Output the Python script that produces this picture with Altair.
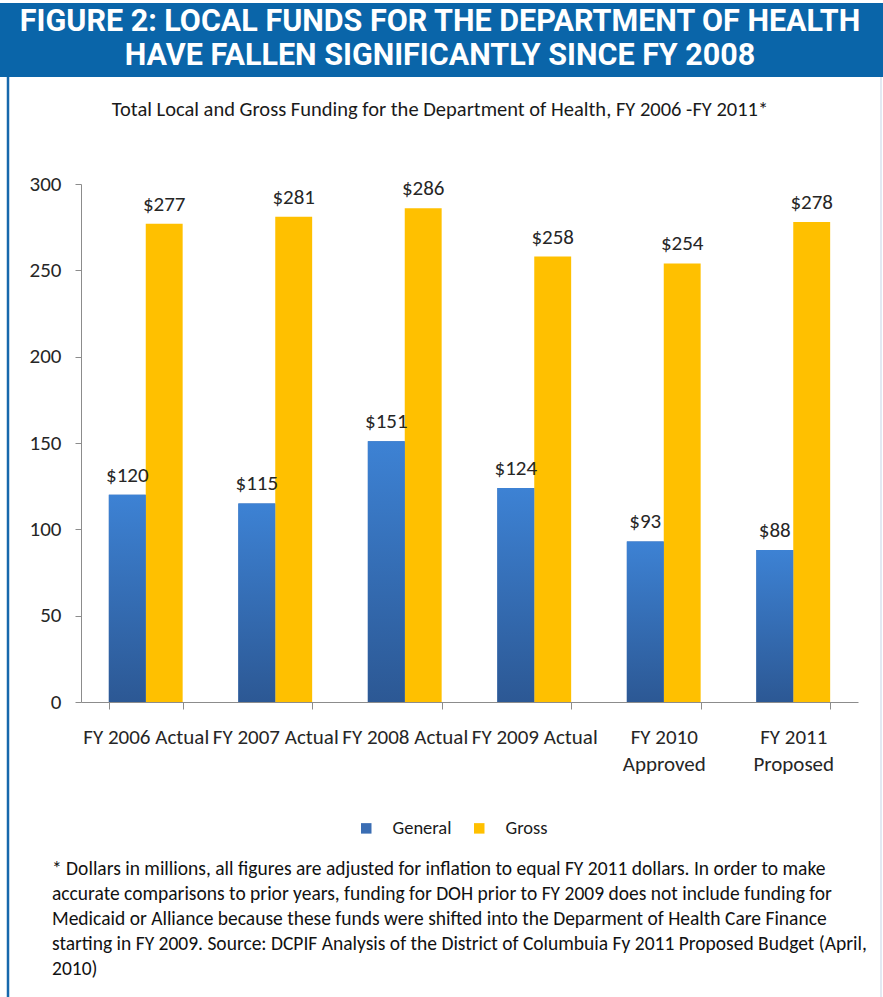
import altair as alt
import pandas as pd

categories = ["FY 2006 Actual", "FY 2007 Actual", "FY 2008 Actual", "FY 2009 Actual",
              "FY 2010\nApproved", "FY 2011\nProposed"]
general = [120, 115, 151, 124, 93, 88]
gross = [277, 281, 286, 258, 254, 278]
series_names = ["General", "Gross"]
series_colors = ["#3A6DB3", "#FFC000"]

header_lines = ["FIGURE 2: LOCAL FUNDS FOR THE DEPARTMENT OF HEALTH",
                "HAVE FALLEN SIGNIFICANTLY SINCE FY 2008"]
subtitle = "Total Local and Gross Funding for the Department of Health, FY 2006 -FY 2011*"
footnote = [
    "* Dollars in millions, all figures are adjusted for inflation to equal FY 2011 dollars.  In order to make",
    "accurate comparisons to prior years, funding for DOH prior to FY 2009 does not include funding for",
    "Medicaid or Alliance because these funds were shifted into the Deparment of Health Care Finance",
    "starting in FY 2009.  Source: DCPIF Analysis of the District of Columbuia Fy 2011 Proposed Budget (April,",
    "2010)",
]

rows = []
for c, g, t in zip(categories, general, gross):
    rows.append({"cat": c, "series": "General", "value": g})
    rows.append({"cat": c, "series": "Gross", "value": t})
df = pd.DataFrame(rows)

FONT = "Carlito, Calibri, Lato, sans-serif"
HFONT = "'Liberation Sans Narrow', 'Arial Narrow', Roboto, sans-serif"

xenc = alt.X("cat:N", sort=categories, title=None,
             scale=alt.Scale(paddingInner=0.43, paddingOuter=0.215),
             axis=alt.Axis(labelAngle=0, labelExpr="split(datum.label, '\\n')",
                           tickBand="extent", labelPadding=17, labelFontSize=21,
                           labelColor="#262626", labelFont=FONT, labelLineHeight=27,
                           domainColor="#8C8C8C", tickColor="#8C8C8C", tickSize=7,
                           labelBaseline="top"))
yenc = alt.Y("value:Q", title=None,
             scale=alt.Scale(domain=[0, 300], nice=False),
             axis=alt.Axis(values=[0, 50, 100, 150, 200, 250, 300], grid=False,
                           labelFontSize=21, labelColor="#262626", labelFont=FONT,
                           domainColor="#8C8C8C", tickColor="#8C8C8C", tickSize=6,
                           labelPadding=14))
xoff = alt.XOffset("series:N", sort=series_names)

base = alt.Chart(df)

bars = base.mark_bar().encode(
    x=xenc, y=yenc, xOffset=xoff,
    color=alt.Color("series:N", sort=series_names,
                    scale=alt.Scale(domain=series_names, range=series_colors),
                    legend=alt.Legend(title=None, orient="none", legendX=276, legendY=635,
                                      direction="horizontal", symbolType="square",
                                      symbolSize=110, symbolStrokeWidth=0,
                                      labelFontSize=18.5, labelFont=FONT, labelColor="#1a1a1a",
                                      labelOffset=17, columnPadding=18)),
)

grad = alt.Gradient(gradient="linear",
                    stops=[alt.GradientStop(color="#3D82D4", offset=0),
                           alt.GradientStop(color="#2C5894", offset=1)],
                    x1=0, x2=0, y1=0, y2=1)
general_bars = base.transform_filter(alt.datum.series == "General").mark_bar(
    color=grad).encode(x=xenc, y=yenc, xOffset=xoff)

labels = base.mark_text(baseline="bottom", dy=-9, fontSize=21, font=FONT,
                        color="#262626").encode(
    x=xenc, y=yenc, xOffset=xoff, text=alt.Text("value:Q", format="$,.0f"))

one = alt.Data(values=[{"k": 0}])

header_rect = alt.Chart(one).mark_rect(color="#0A65A9").encode(
    x=alt.value(-81), x2=alt.value(802), y=alt.value(-181), y2=alt.value(-107))
header_text = alt.Chart(one).mark_text(
    text=header_lines, font=HFONT, fontWeight="bold", fontSize=30.5, color="white",
    lineHeight=34, baseline="middle", align="center").encode(
    x=alt.value(359), y=alt.value(-162))
left_line = alt.Chart(one).mark_rule(color="#1668AC", strokeWidth=2.5).encode(
    x=alt.value(-73), y=alt.value(-107), y2=alt.value(813))
right_line = alt.Chart(one).mark_rule(color="#D8E2EE", strokeWidth=1.5).encode(
    x=alt.value(800), y=alt.value(-107), y2=alt.value(813))
sub_text = alt.Chart(one).mark_text(
    text=subtitle, font=FONT, fontSize=20.5, color="#1a1a1a", align="center",
    baseline="middle").encode(x=alt.value(359), y=alt.value(-74))
foot_text = alt.Chart(one).mark_text(
    text=footnote, font=FONT, fontSize=19.5, color="#111111", align="left",
    baseline="top", lineHeight=25).encode(x=alt.value(-29), y=alt.value(676))

chart = alt.layer(
    header_rect, header_text, left_line, right_line, sub_text,
    bars, general_bars, labels, foot_text
).properties(
    width=777, height=518,
    autosize=alt.AutoSizeParams(type="none"),
    padding={"left": 81, "top": 184, "right": 25, "bottom": 295},
    background="white",
).configure_view(stroke=None)

chart.save("out.html", embed_options={"renderer": "svg", "actions": False})
